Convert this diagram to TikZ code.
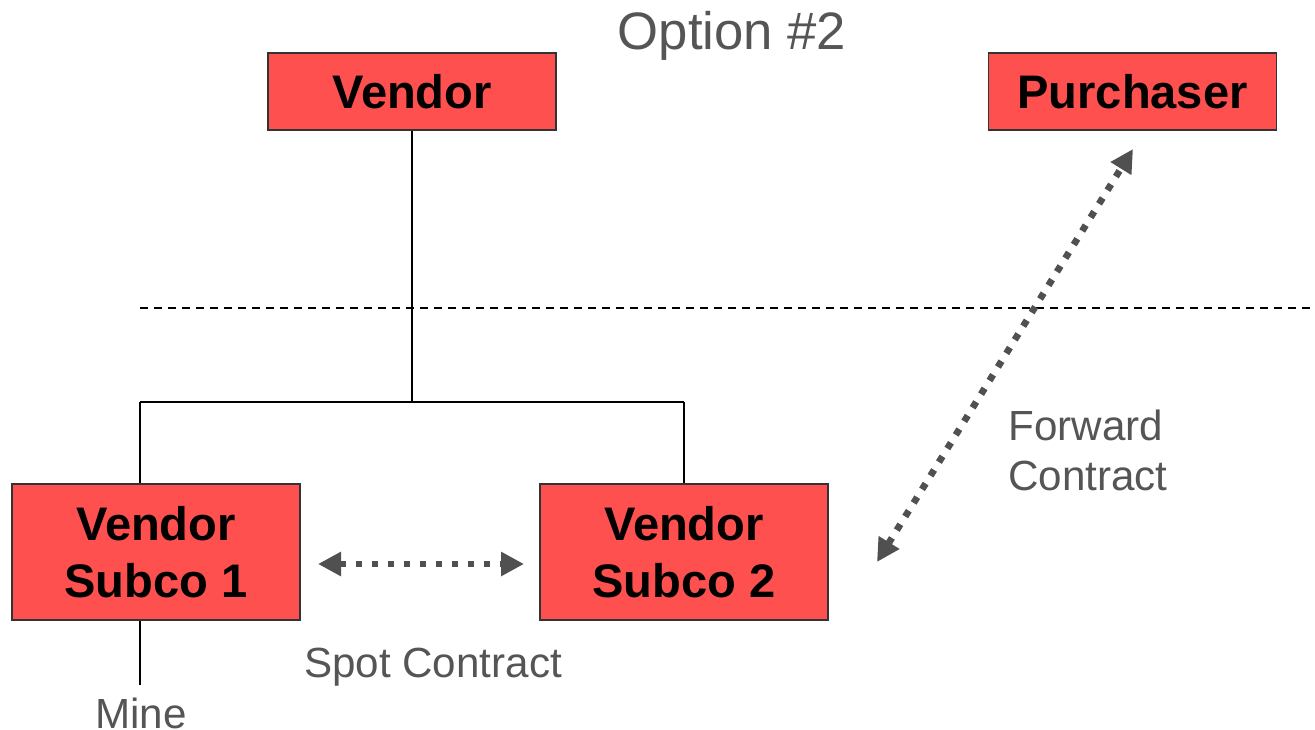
\documentclass[tikz,border=0pt]{standalone}
\usepackage{fontspec}
\setmainfont{Liberation Sans}
\usetikzlibrary{arrows.meta}
\definecolor{boxred}{RGB}{255,80,80}
\definecolor{labelgray}{RGB}{85,85,85}
\definecolor{arrowgray}{RGB}{80,80,80}
\tikzset{
  entity/.style={draw=black!80, line width=1pt, fill=boxred, inner sep=0pt,
    minimum width=5.76cm, align=center,
    font=\bfseries\fontsize{26.8}{32.5}\selectfont},
  toprow/.style={entity, minimum height=1.54cm},
  subrow/.style={entity, minimum height=2.72cm},
  treeline/.style={line width=1.3pt, black},
  graylabel/.style={text=labelgray, inner sep=0pt, font=\fontsize{24}{28.4}\selectfont},
  contract/.style={draw=arrowgray, line width=0.135cm, dash pattern=on 0.135cm off 0.185cm,
    {Triangle[length=0.46cm,width=0.46cm]}-{Triangle[length=0.46cm,width=0.46cm]}}
}
\begin{document}
\begin{tikzpicture}[x=0.02cm, y=-0.02cm]
\useasboundingbox (0,0) rectangle (1315,730);

% title
\node[text=labelgray, font=\fontsize{30}{36}\selectfont] (title) at (732,36) {Option \#2};

% parties
\node[toprow] (vendor) at (412,91.5) {Vendor};
\node[toprow] (purchaser) at (1132.5,91.5) {Purchaser};
\node[subrow] (subco1) at (156,552) {Vendor\\Subco 1};
\node[subrow] (subco2) at (684,552) {Vendor\\Subco 2};

% ownership tree
\coordinate (junction) at (412,402);
\coordinate (left) at (140,402);
\coordinate (right) at (684,402);
\draw[treeline] (vendor.south) -- (junction);
\draw[treeline] (left) -- (right);
\draw[treeline] (left) -- (left |- subco1.north);
\draw[treeline] (right) -- (subco2.north);

% mine below subco 1
\coordinate (mineend) at (140,685);
\draw[treeline] (left |- subco1.south) -- (mineend);
\node[graylabel] (mine) at (141,713) {Mine};

% separator
\coordinate (sepL) at (140,308);
\coordinate (sepR) at (1315,308);
\draw[line width=1pt, dash pattern=on 0.16cm off 0.12cm] (sepL) -- (sepR);

% contracts
\coordinate (spotL) at (318,564);
\coordinate (spotR) at (524,564);
\draw[contract] (spotL) -- (spotR);
\node[graylabel] (spot) at (433,667) {Spot Contract};

\coordinate (fwdA) at (877,562);
\coordinate (fwdB) at (1133,149);
\draw[contract] (fwdA) -- (fwdB);
\node[graylabel, align=left, anchor=west] (fwd) at (1008,450) {Forward\\Contract};
\end{tikzpicture}
\end{document}
